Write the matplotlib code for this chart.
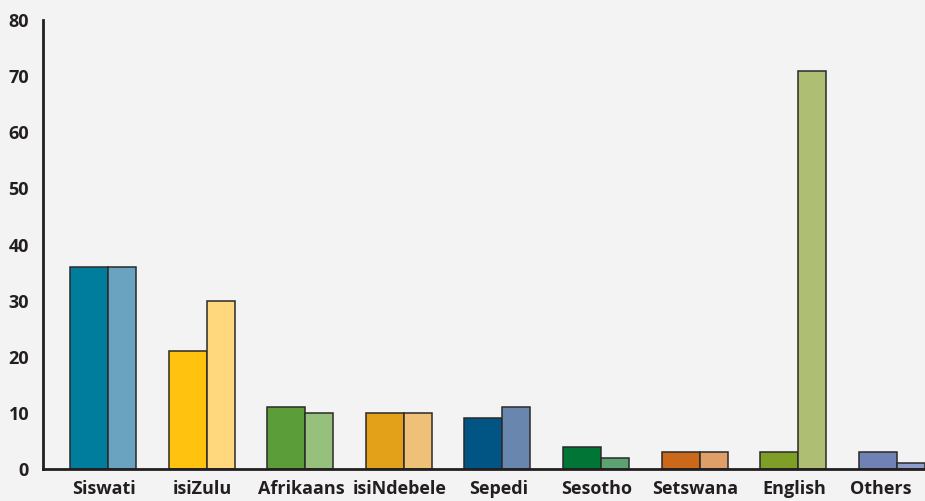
import matplotlib
matplotlib.use('Agg')
import matplotlib.pyplot as plt
import numpy as np

# languages and the two series (dark / light bar of each pair)
languages = ['Siswati', 'isiZulu', 'Afrikaans', 'isiNdebele', 'Sepedi',
             'Sesotho', 'Setswana', 'English', 'Others']
first_values = [36, 21, 11, 10, 9, 4, 3, 3, 3]
second_values = [36, 30, 10, 10, 11, 2, 3, 71, 1]

dark_colors = ['#007d9c', '#ffc20e', '#5b9e39', '#e3a119', '#005584',
               '#007535', '#cc6819', '#7e9e28', '#7082b4']
light_colors = ['#69a3bf', '#ffd77c', '#98c07d', '#efc077', '#6886ae',
                '#5da371', '#e09e69', '#aebe72', '#8c9dcb']

y_ticks = [0, 10, 20, 30, 40, 50, 60, 70, 80]

plt.rcParams['font.family'] = ['Open Sans', 'DejaVu Sans']

fig = plt.figure(figsize=(9.25, 5.01), dpi=100)
fig.patch.set_facecolor('#f3f3f3')
ax = fig.add_axes([43 / 925, 32 / 501, 1 - 43 / 925, (469 - 20) / 501])
ax.set_facecolor('#f3f3f3')

x = np.arange(len(languages))
w_dark = 38 / 98.6
w_light = 28 / 98.6

ax.bar(x, first_values, width=w_dark, align='edge', color=dark_colors,
       edgecolor='#2a2a2a', linewidth=1.1, zorder=3)
ax.bar(x + w_dark, second_values, width=w_light, align='edge', color=light_colors,
       edgecolor='#2a2a2a', linewidth=1.1, zorder=3)

ax.set_xlim(-27 / 98.6, (925 - 70) / 98.6)
ax.set_ylim(0, 80)

tick_pos = x + w_dark - 0.04
tick_pos[-1] = 8.22
ax.set_xticks(tick_pos)
ax.set_xticklabels(languages)
ax.set_yticks(y_ticks)
ax.tick_params(axis='both', length=0, labelsize=13, colors='#231f20')
ax.tick_params(axis='y', pad=10)
ax.tick_params(axis='x', pad=8)
for lab in ax.get_xticklabels() + ax.get_yticklabels():
    lab.set_fontweight('bold')

for side in ['top', 'right']:
    ax.spines[side].set_visible(False)
for side in ['left', 'bottom']:
    ax.spines[side].set_linewidth(2)
    ax.spines[side].set_color('#231f20')
    ax.spines[side].set_zorder(4)

fig.savefig('out.png', dpi=100, facecolor=fig.get_facecolor())
